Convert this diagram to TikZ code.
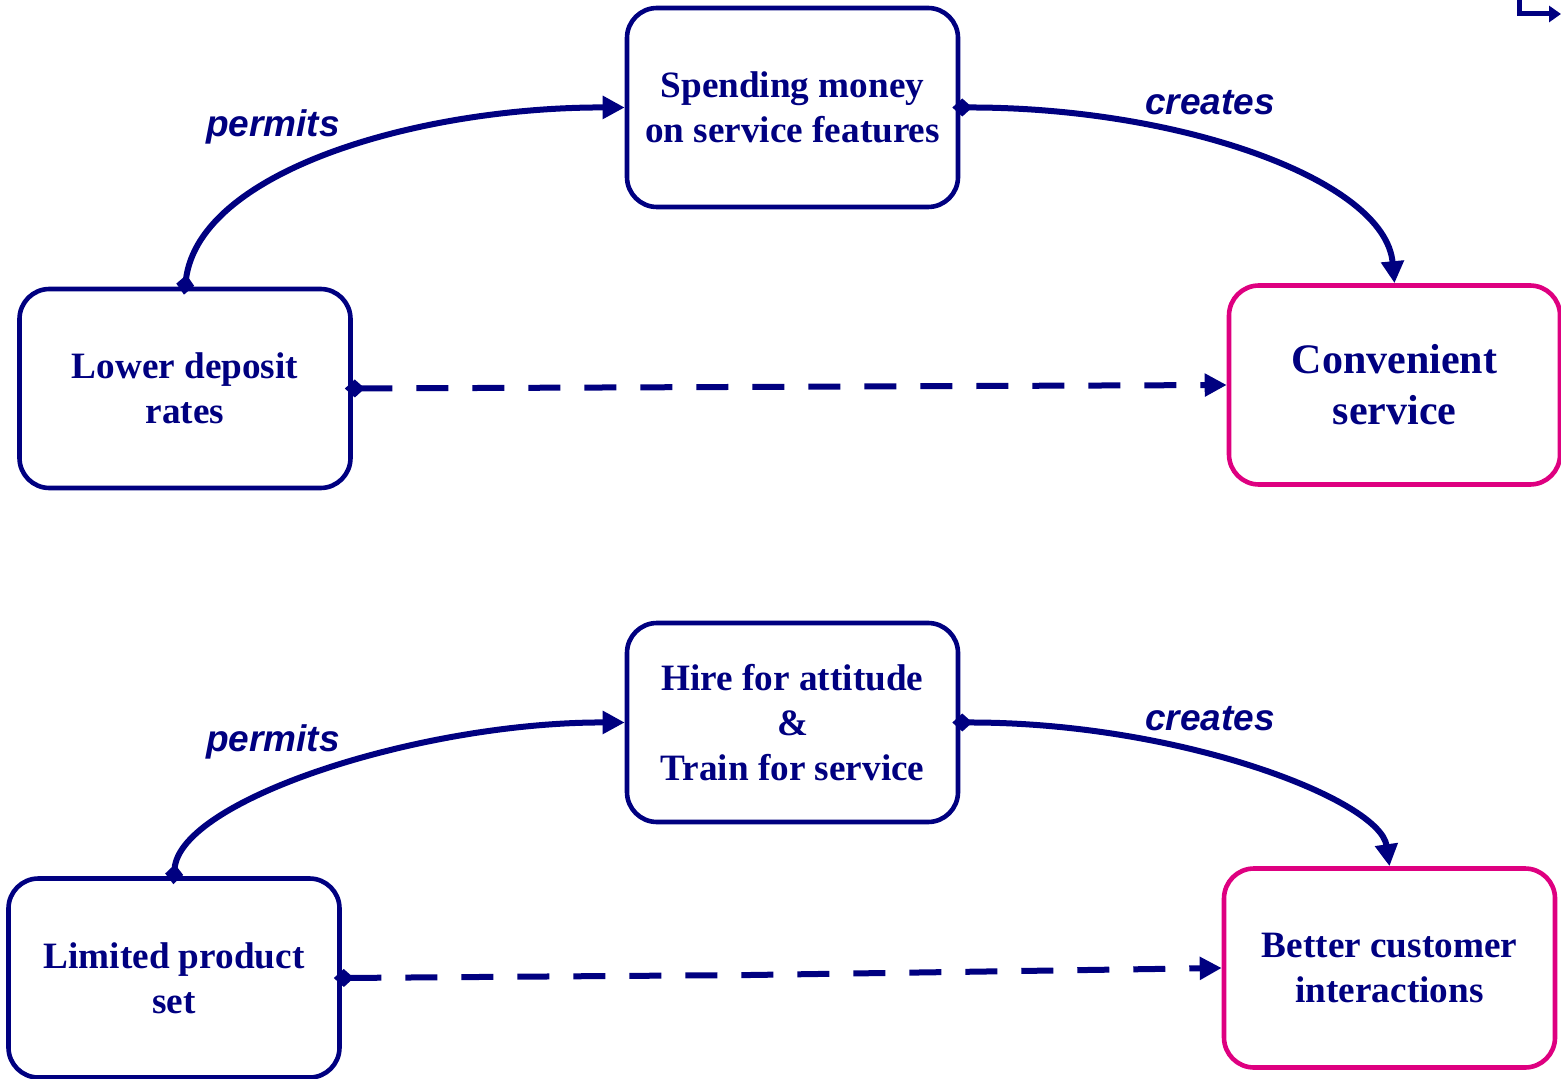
\documentclass[tikz,border=0pt]{standalone}
\usepackage{fontspec}
\setmainfont{Liberation Serif}
\setsansfont{Liberation Sans}
\usetikzlibrary{arrows.meta}

\definecolor{inkblue}{RGB}{0,0,128}
\definecolor{goalpink}{RGB}{222,0,128}

\begin{document}
\begin{tikzpicture}[
    x=0.5pt, y=-0.5pt,
    cause/.style={draw=inkblue, line width=2.3pt, rounded corners=15pt, minimum width=165.5pt, minimum height=99.5pt, align=center, text=inkblue, font=\fontsize{18.6}{22.5}\selectfont\bfseries},
    effect/.style={cause, draw=goalpink},
    linklabel/.style={text=inkblue, font=\fontsize{18.5}{22}\selectfont\sffamily\bfseries\itshape},
    link/.style={draw=inkblue, line width=3pt, shorten <=-4pt, {Diamond[length=10pt,width=9pt]}-{Triangle[length=11pt,width=11pt]}},
    sidelink/.style={link, dash pattern=on 16pt off 12pt}
]
    \useasboundingbox (0,0) rectangle (1561,1079);

    % Top chain
    \node[cause] (spend) at (792.5,107.5) {Spending money\\on service features};
    \node[cause] (lower) at (185,388.5) {Lower deposit\\rates};
    \node[effect, font=\fontsize{21}{25.5}\selectfont\bfseries] (conv) at (1394.5,385) {Convenient\\service};

    \draw[link] (lower.north) .. controls (200,170) and (420,107) .. (spend.west);
    \draw[link] (spend.east) .. controls (1180,107) and (1385,180) .. (conv.north);
    \draw[sidelink] (lower.east) -- (conv.west);

    \node[linklabel] (perm1) at (273,127) {permits};
    \node[linklabel] (creat1) at (1210,103) {creates};

    % Bottom chain
    \node[cause] (hire) at (792.5,722.5) {Hire for attitude\\\&\\Train for service};
    \node[cause] (limited) at (174,978) {Limited product\\set};
    \node[effect] (better) at (1389.5,968) {Better customer\\interactions};

    \draw[link] (limited.north) .. controls (180,800) and (420,722) .. (hire.west);
    \draw[link] (hire.east) .. controls (1180,722) and (1380,800) .. (better.north);
    \draw[sidelink] (limited.east) -- (750,975) -- (better.west);

    \node[linklabel] (perm2) at (273,742) {permits};
    \node[linklabel] (creat2) at (1210,719) {creates};

    % Corner stub
    \coordinate (stubtop) at (1519,0);
    \coordinate (stubend) at (1561,14);
    \draw[draw=inkblue, line width=2.5pt, -{Triangle[length=6pt,width=8pt]}] (stubtop) |- (stubend);
\end{tikzpicture}
\end{document}
